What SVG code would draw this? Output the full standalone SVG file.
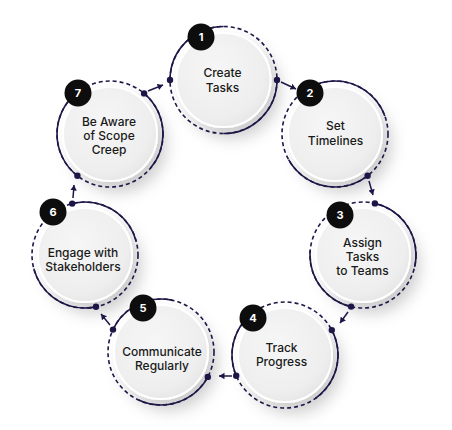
<svg xmlns="http://www.w3.org/2000/svg" width="452" height="430" viewBox="0 0 452 430">
<defs>
<radialGradient id="disc" cx="0.42" cy="0.38" r="0.65">
<stop offset="0" stop-color="#f6f6f6"/>
<stop offset="0.8" stop-color="#eeeeee"/>
<stop offset="1" stop-color="#e6e6e6"/>
</radialGradient>
<filter id="sh" x="-50%" y="-50%" width="230%" height="230%">
<feDropShadow dx="8" dy="10" stdDeviation="8" flood-color="#000" flood-opacity="0.2"/>
</filter>
<marker id="ah" markerWidth="7" markerHeight="7" refX="5.5" refY="3.25" orient="auto" markerUnits="userSpaceOnUse">
<path d="M0,0 L5.5,3.25 L0,6.5 Z" fill="#1d1747"/>
</marker>
</defs>
<style>
.disc{fill:url(#disc);stroke:#ffffff;stroke-width:2;filter:url(#sh)}
.dash{fill:none;stroke:#1d1747;stroke-width:1.6;stroke-dasharray:4 3}
.solid{fill:none;stroke:#1d1747;stroke-width:1.6}
.dot{fill:#1d1747}
.badge{fill:#0d0d0d}
.num{font-family:Inter,"Liberation Sans",sans-serif;font-size:11px;font-weight:700;fill:#ffffff;text-anchor:middle}
.lbl{font-family:Inter,"Liberation Sans",sans-serif;font-size:12px;font-weight:500;fill:#1a1a1a;text-anchor:middle}
.conn{fill:none;stroke:#1d1747;stroke-width:1.5;marker-end:url(#ah)}
</style>
<rect width="452" height="430" fill="#ffffff"/>

<g id="node1">
<circle class="disc" cx="223.5" cy="80" r="47"/>
<circle class="dash" cx="223.5" cy="80" r="53.5"/>
<circle class="solid" cx="223.5" cy="80" r="53.5" pathLength="360" stroke-dasharray="90 90"/>
<circle class="dot" cx="170" cy="80" r="3.2"/>
<circle class="dot" cx="277" cy="80" r="3.2"/>
<circle class="badge" cx="201" cy="37" r="13.5"/>
<text class="num" x="201" y="41">1</text>
<text class="lbl" x="222.5" y="77">Create</text>
<text class="lbl" x="222.5" y="91.5">Tasks</text>
</g>

<g id="node2">
<circle class="disc" cx="335" cy="134" r="47"/>
<circle class="dash" cx="335" cy="134" r="53"/>
<circle class="solid" cx="335" cy="134" r="53" pathLength="360" stroke-dasharray="99 89 100 72" stroke-dashoffset="-52"/>
<circle class="dot" cx="367.6" cy="175.8" r="3.2"/>
<circle class="badge" cx="310" cy="93" r="13.5"/>
<text class="num" x="310" y="97">2</text>
<text class="lbl" x="335.5" y="130">Set</text>
<text class="lbl" x="335.5" y="144.5">Timelines</text>
</g>

<g id="node3">
<circle class="disc" cx="363" cy="255" r="47"/>
<circle class="dash" cx="363" cy="255" r="53"/>
<circle class="solid" cx="363" cy="255" r="53" pathLength="360" stroke-dasharray="90 90 82 98" stroke-dashoffset="77"/>
<circle class="dot" cx="374.9" cy="203.4" r="3.2"/>
<circle class="dot" cx="351.1" cy="306.6" r="3.2"/>
<circle class="badge" cx="340" cy="215" r="13.5"/>
<text class="num" x="340" y="219">3</text>
<text class="lbl" x="362.5" y="247">Assign</text>
<text class="lbl" x="362.5" y="261">Tasks</text>
<text class="lbl" x="362.5" y="275">to Teams</text>
</g>

<g id="node4">
<circle class="disc" cx="285" cy="355" r="47"/>
<circle class="dash" cx="285" cy="355" r="53"/>
<circle class="solid" cx="285" cy="355" r="53" pathLength="360" stroke-dasharray="83 102 73 102" stroke-dashoffset="28"/>
<circle class="dot" cx="331.8" cy="330.1" r="3.2"/>
<circle class="dot" cx="236.2" cy="375.7" r="3.2"/>
<circle class="badge" cx="253" cy="318" r="13.5"/>
<text class="num" x="253" y="322">4</text>
<text class="lbl" x="281.5" y="352">Track</text>
<text class="lbl" x="281.5" y="366">Progress</text>
</g>

<g id="node5">
<circle class="disc" cx="161" cy="352" r="47"/>
<circle class="dash" cx="161" cy="352" r="53"/>
<circle class="solid" cx="161" cy="352" r="53" pathLength="360" stroke-dasharray="87 90 77 106" stroke-dashoffset="-28"/>
<circle class="dot" cx="207.8" cy="376.9" r="3.2"/>
<circle class="dot" cx="113" cy="329.6" r="3.2"/>
<circle class="badge" cx="143" cy="308" r="13.5"/>
<text class="num" x="143" y="312">5</text>
<text class="lbl" x="162" y="355.5">Communicate</text>
<text class="lbl" x="162" y="369.5">Regularly</text>
</g>

<g id="node6">
<circle class="disc" cx="85" cy="255" r="47"/>
<circle class="dash" cx="85" cy="255" r="53"/>
<circle class="solid" cx="85" cy="255" r="53" pathLength="360" stroke-dasharray="89 93 87 91" stroke-dashoffset="104"/>
<circle class="dot" cx="72.2" cy="203.6" r="3.2"/>
<circle class="dot" cx="96" cy="306.8" r="3.2"/>
<circle class="badge" cx="53" cy="212" r="13.5"/>
<text class="num" x="53" y="216">6</text>
<text class="lbl" x="83" y="257">Engage with</text>
<text class="lbl" x="83" y="271">Stakeholders</text>
</g>

<g id="node7">
<circle class="disc" cx="110" cy="134" r="47"/>
<circle class="dash" cx="110" cy="134" r="53"/>
<circle class="solid" cx="110" cy="134" r="53" pathLength="360" stroke-dasharray="90 88 102 80" stroke-dashoffset="50"/>
<circle class="dot" cx="144.1" cy="93.4" r="3.2"/>
<circle class="dot" cx="77.4" cy="175.8" r="3.2"/>
<circle class="badge" cx="78" cy="93" r="13.5"/>
<text class="num" x="78" y="97">7</text>
<text class="lbl" x="109" y="126">Be Aware</text>
<text class="lbl" x="109" y="140">of Scope</text>
<text class="lbl" x="109" y="154">Creep</text>
</g>

<g id="connectors">
<line class="conn" x1="281" y1="82" x2="296" y2="89"/>
<line class="conn" x1="369" y1="181" x2="373" y2="195"/>
<line class="conn" x1="348" y1="312" x2="340" y2="323"/>
<line class="conn" x1="232" y1="376" x2="219" y2="376"/>
<line class="conn" x1="110" y1="325" x2="101" y2="314"/>
<line class="conn" x1="73" y1="198" x2="74" y2="185"/>
<line class="conn" x1="148" y1="91" x2="163" y2="85"/>
</g>
</svg>
